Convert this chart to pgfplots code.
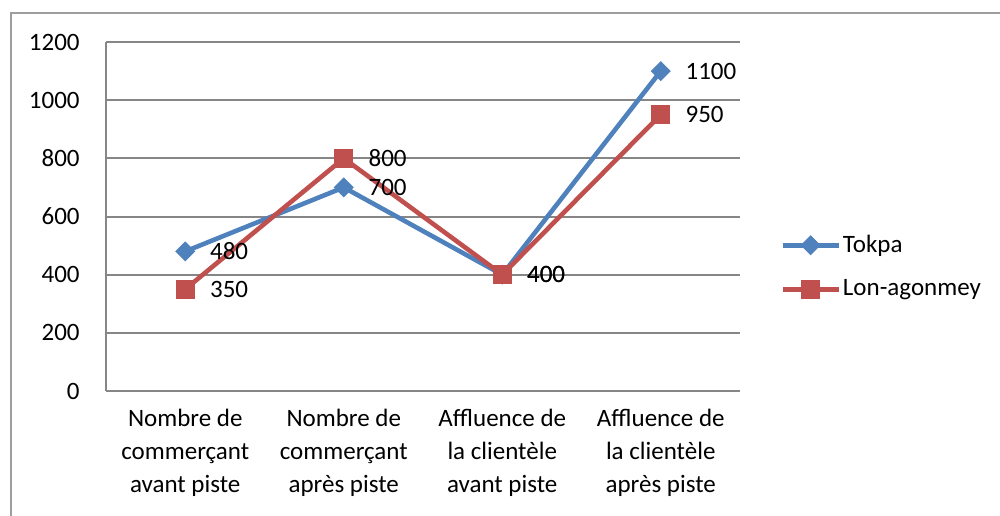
\documentclass[border=0pt]{standalone}
\usepackage{fontspec}
\setmainfont{Carlito}
\usepackage{pgfplots}
\pgfplotsset{compat=1.18}
\definecolor{tokpa}{HTML}{4F81BD}
\definecolor{lonag}{HTML}{C0504D}
\definecolor{gridgray}{HTML}{868686}

\begin{document}
\fontsize{12.5}{16.5}\selectfont
\begin{tikzpicture}[x=1pt,y=1pt]
  \useasboundingbox (-53,-62) rectangle (447,195.5);
  % outer chart frame (cropped at right and bottom)
  \draw[gridgray!80, line width=1pt] (-47.5,-80) -- (-47.5,189) -- (470,189);
  \begin{axis}[
      at={(0,0)}, anchor=south west,
      scale only axis,
      width=317pt, height=174.5pt,
      xmin=-0.5, xmax=3.5,
      ymin=0, ymax=1200,
      ytick={0,200,...,1200},
      xtick={0,1,2,3},
      xticklabels={{Nombre de\\commerçant\\avant piste},
                   {Nombre de\\commerçant\\après piste},
                   {Affluence de\\la clientèle\\avant piste},
                   {Affluence de\\la clientèle\\après piste}},
      axis lines*=left,
      axis line style={-, gridgray, line width=1pt},
      ymajorgrids=true,
      grid style={gridgray, line width=1pt},
      major tick length=0pt,
      /pgf/number format/assume math mode=true,
      /pgf/number format/1000 sep={},
      tick label style={font=\fontsize{12.5}{16.5}\selectfont},
      yticklabel style={inner sep=0pt, xshift=-13pt},
      xticklabel style={align=center, anchor=north, inner sep=0pt, yshift=-9pt},
      legend style={at={(rel axis cs:1.063,0.355)}, anchor=west, draw=none,
        fill=none, inner sep=0pt, row sep=10pt,
        font=\fontsize{12.5}{16.5}\selectfont,
        nodes={inner sep=1pt}},
      legend cell align=left,
      legend image code/.code={\draw[mark repeat=2, mark phase=2]
        plot coordinates {(0pt,0pt) (14pt,0pt) (28pt,0pt)};},
      nodes near coords,
      every node near coord/.append style={anchor=west, xshift=8pt,
        text=black, font=\fontsize{12.5}{16.5}\selectfont},
      clip=false,
    ]
    \addplot[color=tokpa, line width=2.3pt, mark=square*,
      mark size=3.3pt, mark options={solid, rotate=45, line width=0.5pt}]
      coordinates {(0,480) (1,700) (2,400) (3,1100)};
    \addplot[color=lonag, line width=2.3pt, mark=square*,
      mark size=4.6pt, mark options={solid, line width=0.5pt}]
      coordinates {(0,350) (1,800) (2,400) (3,950)};
    \legend{Tokpa, Lon-agonmey}
  \end{axis}
\end{tikzpicture}
\end{document}
